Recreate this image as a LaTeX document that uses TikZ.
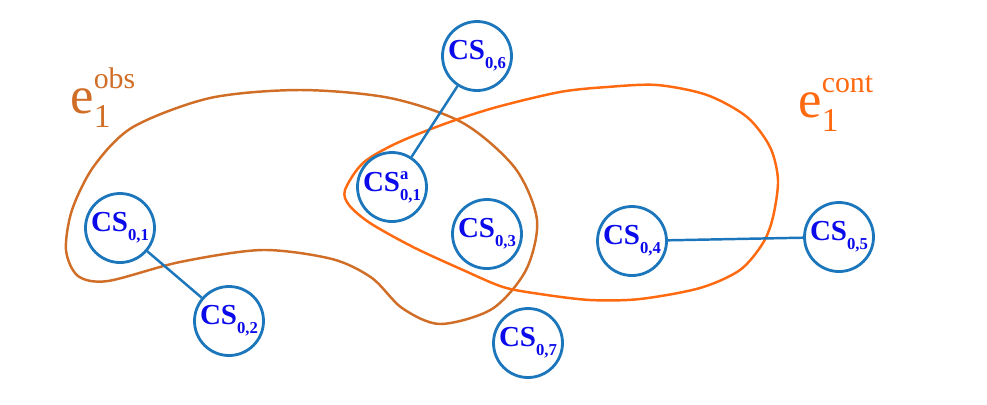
\documentclass[tikz,border=0pt]{standalone}
\usepackage{fontspec}
\setmainfont{Liberation Serif}
\usepackage{xcolor}
\definecolor{ringblue}{RGB}{28,118,188}
\definecolor{csblue}{RGB}{10,10,235}
\definecolor{obsorange}{RGB}{208,110,40}
\definecolor{contorange}{RGB}{255,105,15}
% CS text with optional superscript and subscript
\newcommand{\cslabel}[2][]{CS\rlap{\raisebox{7pt}{\fontsize{9.5}{9.5}\selectfont #1}}\raisebox{-5pt}{\fontsize{9.5}{9.5}\selectfont #2}}
% hyperedge label e_1^{...}
\newcommand{\hedge}[1]{e\rlap{\raisebox{-8.5pt}{\fontsize{19}{19}\selectfont 1}}\raisebox{14pt}{\fontsize{17}{17}\selectfont #1}}
\begin{document}
\begin{tikzpicture}[
        x={(0.2mm,0mm)},
        y={(0mm,-0.2mm)},
        cs/.style={
            circle,
            draw=ringblue,
            line width=1.6pt,
            minimum size=13.8mm,
            inner sep=0mm,
            fill=white,
            text=csblue,
            font=\bfseries\fontsize{16.5}{16.5}\selectfont
        },
        link/.style={draw=ringblue, line width=1.4pt},
        obs/.style={draw=obsorange, line width=1.4pt},
        cont/.style={draw=contorange, line width=1.4pt},
        hlabel/.style={anchor=base west, inner sep=0pt, font=\fontsize{30}{30}\selectfont}
    ]
    \useasboundingbox (0,0) rectangle (987,404);
    % hyperedges
    \draw[obs] plot[smooth cycle] coordinates {
        (66,250) (72,210) (94,166) (133,127) (210,98) (300,90) (390,98)
        (463,123) (515,168) (537,220) (526,270) (492,309) (440,324)
        (402,308) (372,278) (332,259) (262,250) (180,262) (108,281)
        (78,276)};
    \draw[cont] plot[smooth cycle] coordinates {
        (345,190) (363,163) (397,143) (447,123) (497,107) (560,92)
        (607,87) (657,85) (707,95) (747,117) (770,147) (778,180)
        (773,217) (763,243) (740,270) (700,288) (640,299) (590,300)
        (540,294) (503,287) (463,270) (413,247) (370,223) (349,205)};
    \node[hlabel, text=obsorange] (lobs) at (70,113) {\hedge{obs}};
    \node[hlabel, text=contorange] (lcont) at (798,117) {\hedge{cont}};
    % cluster states
    \node[cs] (cs01) at (120,228) {\cslabel{0,1}};
    \node[cs] (cs02) at (229,321) {\cslabel{0,2}};
    \node[cs] (cs06) at (477,56) {\cslabel{0,6}};
    \node[cs] (cs01a) at (392,187) {\cslabel[a]{0,1}};
    \node[cs] (cs03) at (487,234) {\cslabel{0,3}};
    \node[cs] (cs04) at (632,241) {\cslabel{0,4}};
    \node[cs] (cs05) at (839,237) {\cslabel{0,5}};
    \node[cs] (cs07) at (528,343) {\cslabel{0,7}};
    % links
    \draw[link] (cs01) -- (cs02);
    \draw[link] (cs01a) -- (cs06);
    \draw[link] (cs04) -- (cs05);
\end{tikzpicture}
\end{document}
